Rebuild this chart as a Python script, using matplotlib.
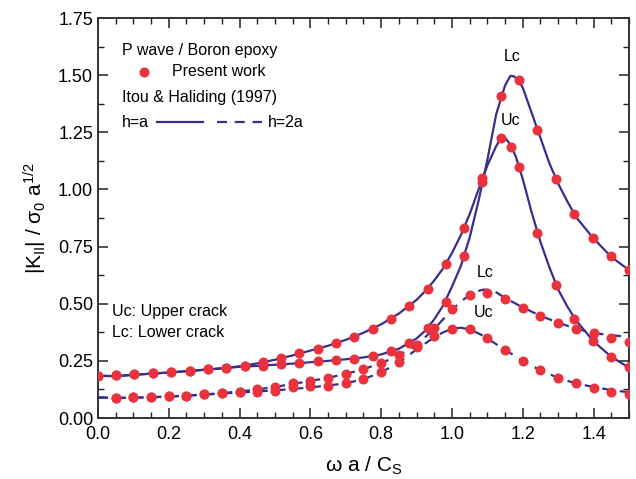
import numpy as np
import matplotlib
matplotlib.use('Agg')
import matplotlib.pyplot as plt
from matplotlib.ticker import MultipleLocator

plt.rcParams['font.family'] = ['Liberation Sans', 'DejaVu Sans']
plt.rcParams['mathtext.fontset'] = 'custom'
plt.rcParams['mathtext.rm'] = 'Liberation Sans'
plt.rcParams['mathtext.it'] = 'Liberation Sans'
plt.rcParams['mathtext.bf'] = 'Liberation Sans:bold'

# ---- present work (points) ----
# h=a, upper crack
uc_a_x = [0.0, 0.052, 0.103, 0.155, 0.207, 0.259, 0.310, 0.362, 0.414, 0.466,
          0.517, 0.569, 0.621, 0.672, 0.724, 0.776, 0.828, 0.879, 0.931, 0.983,
          1.034, 1.086, 1.138, 1.168, 1.190, 1.241, 1.293, 1.345, 1.397, 1.448, 1.5]
uc_a_y = [0.185, 0.188, 0.192, 0.195, 0.200, 0.206, 0.213, 0.217, 0.229, 0.246,
          0.261, 0.283, 0.302, 0.327, 0.356, 0.391, 0.433, 0.490, 0.566, 0.674,
          0.830, 1.049, 1.225, 1.187, 1.099, 0.808, 0.582, 0.433, 0.338, 0.268, 0.222]
# h=a, lower crack
lc_a_x = [0.0, 0.052, 0.103, 0.155, 0.207, 0.259, 0.310, 0.362, 0.414, 0.466,
          0.517, 0.569, 0.621, 0.672, 0.724, 0.776, 0.828, 0.879, 0.931, 0.983,
          1.034, 1.086, 1.138, 1.190, 1.241, 1.293, 1.345, 1.397, 1.448, 1.5]
lc_a_y = [0.185, 0.188, 0.192, 0.195, 0.200, 0.206, 0.213, 0.217, 0.229, 0.227,
          0.235, 0.239, 0.249, 0.254, 0.260, 0.271, 0.293, 0.327, 0.394, 0.509,
          0.709, 1.034, 1.410, 1.479, 1.260, 1.045, 0.892, 0.786, 0.707, 0.647]
# h=2a
x_2a = [0.05, 0.10, 0.15, 0.20, 0.25, 0.30, 0.35, 0.40, 0.45, 0.50,
        0.55, 0.60, 0.65, 0.70, 0.75, 0.80, 0.85, 0.90, 0.95, 1.00,
        1.05, 1.10, 1.15, 1.20, 1.25, 1.30, 1.35, 1.40, 1.45, 1.50]
uc_2a_y = [0.088, 0.090, 0.092, 0.095, 0.098, 0.104, 0.108, 0.112, 0.114, 0.120,
           0.135, 0.140, 0.142, 0.152, 0.171, 0.200, 0.246, 0.312, 0.359, 0.390,
           0.388, 0.349, 0.297, 0.249, 0.208, 0.176, 0.152, 0.133, 0.115, 0.105]
lc_2a_y = [0.088, 0.090, 0.092, 0.095, 0.098, 0.104, 0.108, 0.116, 0.126, 0.134,
           0.152, 0.162, 0.175, 0.191, 0.214, 0.239, 0.276, 0.319, 0.392, 0.475,
           0.538, 0.545, 0.519, 0.483, 0.446, 0.417, 0.389, 0.370, 0.351, 0.334]

# ---- Itou & Haliding (1997) curves ----
uc_a_lx = [0.0, 0.05, 0.1, 0.15, 0.2, 0.25, 0.3, 0.35, 0.4, 0.45, 0.5, 0.55, 0.6,
           0.65, 0.7, 0.75, 0.8, 0.85, 0.9, 0.925, 0.95, 0.975, 1.0, 1.025, 1.05,
           1.075, 1.1, 1.125, 1.14, 1.15, 1.165, 1.18, 1.2, 1.225, 1.25, 1.275,
           1.3, 1.325, 1.35, 1.4, 1.45, 1.5]
uc_a_ly = [0.185, 0.183, 0.189, 0.194, 0.199, 0.205, 0.211, 0.218, 0.226, 0.239,
           0.255, 0.274, 0.295, 0.316, 0.342, 0.373, 0.410, 0.457, 0.517, 0.556,
           0.602, 0.655, 0.722, 0.800, 0.892, 1.000, 1.105, 1.190, 1.228, 1.226,
           1.196, 1.145, 1.045, 0.900, 0.770, 0.660, 0.562, 0.490, 0.428, 0.335,
           0.268, 0.220]
lc_a_lx = [0.0, 0.05, 0.1, 0.15, 0.2, 0.25, 0.3, 0.35, 0.4, 0.45, 0.5, 0.55, 0.6,
           0.65, 0.7, 0.75, 0.8, 0.85, 0.9, 0.925, 0.95, 0.975, 1.0, 1.025, 1.05,
           1.075, 1.1, 1.125, 1.15, 1.165, 1.175, 1.19, 1.2, 1.225, 1.25, 1.275,
           1.3, 1.325, 1.35, 1.4, 1.45, 1.5]
lc_a_ly = [0.185, 0.183, 0.189, 0.194, 0.199, 0.205, 0.211, 0.217, 0.224, 0.228,
           0.233, 0.238, 0.244, 0.250, 0.257, 0.265, 0.278, 0.303, 0.348, 0.383,
           0.432, 0.492, 0.575, 0.665, 0.790, 0.950, 1.130, 1.330, 1.455, 1.497,
           1.495, 1.472, 1.445, 1.335, 1.225, 1.115, 1.025, 0.950, 0.880, 0.785,
           0.705, 0.647]
l2a_x = [0.0, 0.05, 0.1, 0.15, 0.2, 0.25, 0.3, 0.35, 0.4, 0.45, 0.5, 0.55, 0.6,
         0.65, 0.7, 0.75, 0.8, 0.85, 0.9, 0.95, 0.975, 1.0, 1.025, 1.05, 1.075,
         1.09, 1.1, 1.125, 1.15, 1.2, 1.25, 1.3, 1.35, 1.4, 1.45, 1.5]
uc_2a_ly = [0.090, 0.088, 0.089, 0.091, 0.094, 0.098, 0.102, 0.107, 0.112, 0.116,
            0.121, 0.127, 0.134, 0.142, 0.152, 0.170, 0.200, 0.243, 0.300, 0.353,
            0.375, 0.390, 0.395, 0.388, 0.370, 0.358, 0.348, 0.323, 0.298, 0.250,
            0.208, 0.176, 0.151, 0.136, 0.122, 0.113]
lc_2a_ly = [0.090, 0.088, 0.089, 0.091, 0.094, 0.098, 0.103, 0.109, 0.116, 0.125,
            0.136, 0.149, 0.162, 0.176, 0.193, 0.214, 0.240, 0.274, 0.320, 0.390,
            0.432, 0.473, 0.510, 0.538, 0.556, 0.562, 0.561, 0.550, 0.525, 0.484,
            0.447, 0.417, 0.391, 0.372, 0.362, 0.355]

line_c = '#3a2d8c'
dot_c = '#e8323c'
dash = (0, (4.5, 3.5))

fig = plt.figure(figsize=(6.36, 4.79), dpi=100)
ax = fig.add_axes([0.154, 0.1273, 0.835, 0.8351])

ax.plot(uc_a_lx, uc_a_ly, color=line_c, lw=1.6)
ax.plot(lc_a_lx, lc_a_ly, color=line_c, lw=1.6)
ax.plot(l2a_x, uc_2a_ly, color=line_c, lw=1.6, ls=dash)
ax.plot(l2a_x, lc_2a_ly, color=line_c, lw=1.6, ls=dash)

for xs, ys in [(uc_a_x, uc_a_y), (lc_a_x, lc_a_y), (x_2a, uc_2a_y), (x_2a, lc_2a_y)]:
    ax.plot(xs, ys, 'o', color=dot_c, ms=7.2, mec='none', zorder=3)

ax.set_xlim(0, 1.5)
ax.set_ylim(0, 1.75)
ax.xaxis.set_major_locator(MultipleLocator(0.2))
ax.xaxis.set_minor_locator(MultipleLocator(0.05))
ax.yaxis.set_major_locator(MultipleLocator(0.25))
ax.yaxis.set_minor_locator(MultipleLocator(0.125))
ax.xaxis.set_major_formatter(plt.FormatStrFormatter('%.1f'))
ax.yaxis.set_major_formatter(plt.FormatStrFormatter('%.2f'))
ax.tick_params(which='both', direction='in', top=True, right=True, labelsize=13,
               color='#222222')
ax.tick_params(which='major', length=7, width=1.1)
ax.tick_params(which='minor', length=4, width=1.0)
ax.tick_params(axis='x', pad=6)
for s in ax.spines.values():
    s.set_linewidth(1.4)
    s.set_color('#333333')

ax.set_xlabel(r'$\mathregular{\omega\ a\ /\ C_S}$', fontsize=15, labelpad=8)
ax.set_ylabel(r'$\mathregular{|K_{II}|\ /\ \sigma_0\ a^{1/2}}$', fontsize=15, labelpad=6)

# peak labels
ax.text(1.17, 1.58, 'Lc', fontsize=11.5, ha='center', va='center')
ax.text(1.165, 1.30, 'Uc', fontsize=11.5, ha='center', va='center')
ax.text(1.093, 0.635, 'Lc', fontsize=11.5, ha='center', va='center')
ax.text(1.09, 0.46, 'Uc', fontsize=11.5, ha='center', va='center')

# legend block
ax.text(0.068, 1.61, 'P wave / Boron epoxy', fontsize=11.5, va='center')
ax.plot([0.13], [1.514], 'o', color=dot_c, ms=7.2, mec='none')
ax.text(0.209, 1.514, 'Present work', fontsize=11.5, va='center')
ax.text(0.068, 1.404, 'Itou & Haliding (1997)', fontsize=11.5, va='center')
ax.text(0.068, 1.295, 'h=a', fontsize=11.5, va='center')
ax.plot([0.167, 0.297], [1.295, 1.295], color=line_c, lw=1.6)
ax.plot([0.336, 0.463], [1.295, 1.295], color=line_c, lw=1.6, ls=dash)
ax.text(0.48, 1.295, 'h=2a', fontsize=11.5, va='center')

ax.text(0.04, 0.468, 'Uc: Upper crack', fontsize=11.5, va='center')
ax.text(0.04, 0.372, 'Lc: Lower crack', fontsize=11.5, va='center')

fig.savefig('out.png', dpi=100)
